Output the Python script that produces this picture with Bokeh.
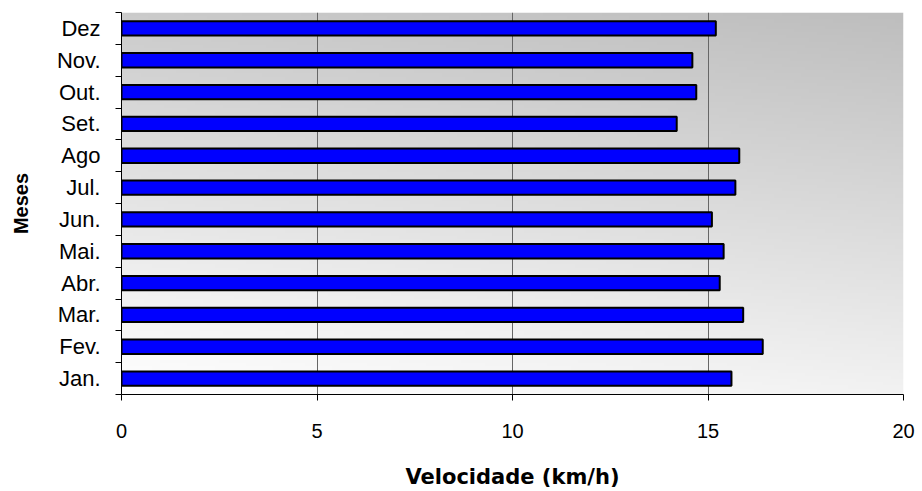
import numpy as np
from bokeh.plotting import figure
from bokeh.models import FixedTicker, Range1d
from bokeh.embed import file_html
from bokeh.resources import INLINE

months = ["Jan.", "Fev.", "Mar.", "Abr.", "Mai.", "Jun.", "Jul.", "Ago", "Set.", "Out.", "Nov.", "Dez"]
speeds = [15.6, 16.4, 15.9, 15.3, 15.4, 15.1, 15.7, 15.8, 14.2, 14.7, 14.6, 15.2]
x_ticks = [0, 5, 10, 15, 20]

n = len(months)
y_pos = np.arange(n) + 0.5

p = figure(width=922, height=491, output_backend="svg", toolbar_location=None,
           x_range=Range1d(0, 20), y_range=Range1d(0, n),
           min_border_left=121, min_border_right=19, min_border_top=12, min_border_bottom=97)
p.outline_line_color = None
p.background_fill_color = "white"
p.border_fill_color = "white"

# background gradient (grey top-right to white bottom-left)
nx, ny = 200, 120
u = np.linspace(0, 1, nx)[None, :]
v = np.linspace(0, 1, ny)[:, None]
t = 0.8 * v + 0.2 * u
g = (255 - (255 - 190) * t).astype(np.uint32)
img = ((255 << 24) | (g << 16) | (g << 8) | g).astype(np.uint32)
r_img = p.image_rgba(image=[img], x=0, y=0, dw=20, dh=n)
r_img.level = "image"

p.hbar(y=y_pos, left=0, right=speeds, height=0.45, fill_color="#0000ff",
       line_color="black", line_width=2)

font = "Liberation Sans"

p.xgrid.ticker = FixedTicker(ticks=x_ticks)
p.xgrid.grid_line_color = "#666666"
p.xgrid.grid_line_width = 1
p.ygrid.visible = False

xa = p.xaxis[0]
xa.ticker = FixedTicker(ticks=x_ticks, minor_ticks=[])
xa.major_tick_in = 0
xa.major_tick_out = 6
xa.axis_line_color = "black"
xa.major_tick_line_color = "black"
xa.major_label_text_font = font
xa.major_label_text_font_size = "20px"
xa.major_label_text_color = "black"
xa.major_label_standoff = 23
xa.axis_label = "Velocidade (km/h)"
xa.axis_label_text_font = "DejaVu Sans"
xa.axis_label_text_font_size = "21px"
xa.axis_label_text_font_style = "bold"
xa.axis_label_text_color = "black"
xa.axis_label_standoff = 24

ya = p.yaxis[0]
ya.ticker = FixedTicker(ticks=list(y_pos), minor_ticks=list(range(n + 1)))
ya.major_label_overrides = {float(yy): m for yy, m in zip(y_pos, months)}
ya.major_tick_in = 0
ya.major_tick_out = 0
ya.minor_tick_in = 0
ya.minor_tick_out = 6
ya.minor_tick_line_color = "black"
ya.axis_line_color = "black"
ya.major_label_text_font = font
ya.major_label_text_font_size = "22px"
ya.major_label_text_color = "black"
ya.major_label_standoff = 15
ya.axis_label = "Meses"
ya.axis_label_text_font = font
ya.axis_label_text_font_size = "20px"
ya.axis_label_text_font_style = "bold"
ya.axis_label_text_color = "black"
ya.axis_label_standoff = 22

open("out.html", "w").write(file_html(p, INLINE))
